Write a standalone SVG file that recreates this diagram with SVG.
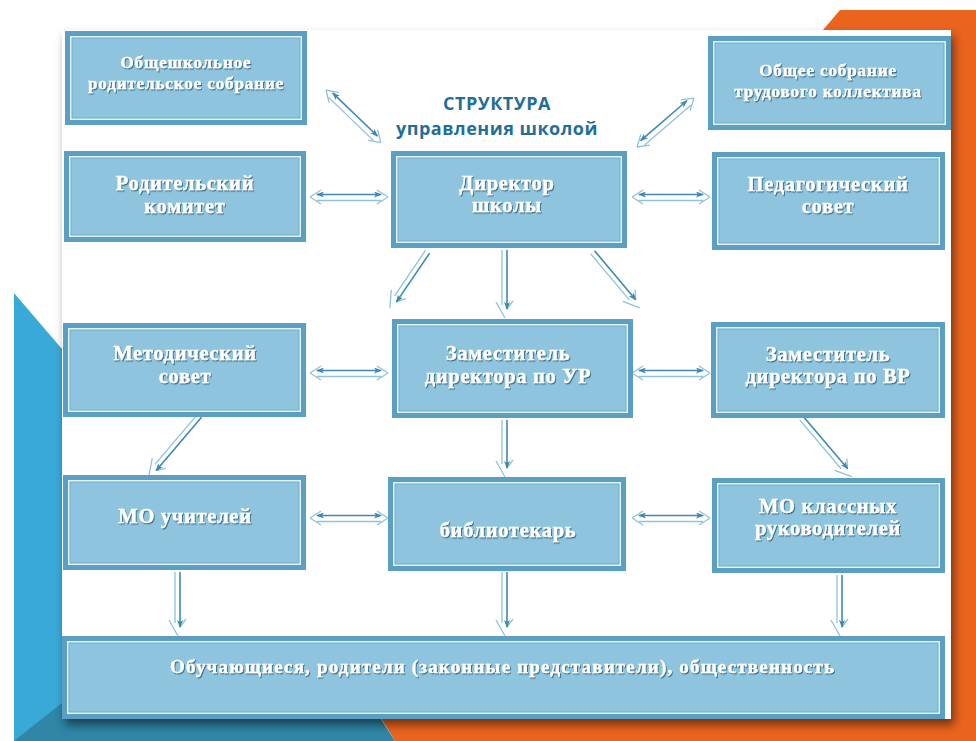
<svg xmlns="http://www.w3.org/2000/svg" width="976" height="741" viewBox="0 0 976 741">
<defs>
<style>
.o{fill:#5b9fc3}
.w{fill:#e4f2f8}
.f{fill:#8ec4dd;stroke:#6eadcd;stroke-width:1}
.t{font-family:"Liberation Serif","Times New Roman",serif;font-weight:bold;fill:#ffffff;stroke:#ffffff;stroke-width:0.35;text-anchor:middle;filter:url(#ts)}
.s20{font-size:20.5px;letter-spacing:0.7px}
.s16{font-size:17px;letter-spacing:0.9px}
.lt{fill:none;stroke:#8fc2da;stroke-width:1.3}
.dk{fill:none;stroke:#3f89b2;stroke-width:1.6}
.ttl{font-family:"Open Sans","Noto Sans",sans-serif;font-weight:bold;font-size:18px;letter-spacing:0.5px;fill:#1f6f97;text-anchor:middle}
</style>
<filter id="ts" x="-10%" y="-30%" width="120%" height="160%">
<feDropShadow dx="1" dy="1.2" stdDeviation="0.6" flood-color="#2a5f78" flood-opacity="0.85"/>
</filter>
<filter id="ss" x="-5%" y="-5%" width="110%" height="115%">
<feDropShadow dx="3" dy="6" stdDeviation="5" flood-color="#000" flood-opacity="0.5"/>
</filter>
<marker id="ah" viewBox="0 0 8 6" refX="7" refY="3" markerWidth="8" markerHeight="6" orient="auto-start-reverse" markerUnits="userSpaceOnUse">
<path d="M0,0 L8,3 L0,6 L2,3 z" fill="#3d87b0"/>
</marker>
<g id="dbl78">
<path class="lt" d="M0,0 L11,-7 M0,0 L11,7 M78,0 L67,-7 M78,0 L67,7 M7,3.5 H71"/>
<path class="dk" d="M7,-2.5 H71" marker-start="url(#ah)" marker-end="url(#ah)"/>
</g>
</defs>

<!-- background -->
<rect x="0" y="0" width="976" height="741" fill="#ffffff"/>
<polygon points="14,293 140,440 140,741 14,741" fill="#39a9d8"/>
<polygon points="840,10 976,10 976,741 395,741 370,700 690,186" fill="#ea641e"/>
<polygon points="14,741 62,703 62,719 381,719 395,741" fill="#2f86a6"/>
<rect x="62" y="30" width="889" height="689" fill="#ffffff" filter="url(#ss)"/>

<!-- title -->
<g id="title">
<text class="ttl" x="497" y="110">СТРУКТУРА</text>
<text class="ttl" x="497" y="135">управления школой</text>
</g>

<!-- connectors -->
<g id="connectors">
<g transform="translate(326,90) rotate(43.9)">
<path class="lt" d="M0,0 L11,-7 M0,0 L11,7 M76,0 L65,-7 M76,0 L65,7 M7,3.5 H69"/>
<path class="dk" d="M7,-2.5 H69" marker-start="url(#ah)" marker-end="url(#ah)"/>
</g>
<g transform="translate(637,147) rotate(-40.7)">
<path class="lt" d="M0,0 L11,-7 M0,0 L11,7 M75,0 L64,-7 M75,0 L64,7 M7,3.5 H68"/>
<path class="dk" d="M7,-2.5 H68" marker-start="url(#ah)" marker-end="url(#ah)"/>
</g>
<use href="#dbl78" x="310" y="197"/>
<use href="#dbl78" x="632" y="197"/>
<use href="#dbl78" x="310" y="373"/>
<use href="#dbl78" x="632" y="373"/>
<use href="#dbl78" x="310" y="518"/>
<use href="#dbl78" x="632" y="518"/>

<g transform="translate(428,252) rotate(124.2)">
<path class="lt" d="M0,3 H55 M51,-8 L59,-2 M52,9 L68,0"/>
<path class="dk" d="M0,-2 H59" marker-end="url(#ah)"/>
</g>
<g transform="translate(505,250) rotate(90)">
<path class="lt" d="M0,3 H55 M51,-8 L59,-2 M52,9 L68,0"/>
<path class="dk" d="M0,-2 H59" marker-end="url(#ah)"/>
</g>
<g transform="translate(593,252) rotate(50)">
<path class="lt" d="M0,3 H60 M56,-8 L64,-2 M57,9 L73,0"/>
<path class="dk" d="M0,-2 H64" marker-end="url(#ah)"/>
</g>
<g transform="translate(505,420) rotate(90)">
<path class="lt" d="M0,3 H44 M40,-8 L48,-2 M41,9 L57,0"/>
<path class="dk" d="M0,-2 H48" marker-end="url(#ah)"/>
</g>
<g transform="translate(200,416) rotate(130.4)">
<path class="lt" d="M0,3 H66 M62,-8 L70,-2 M63,9 L79,0"/>
<path class="dk" d="M0,-2 H70" marker-end="url(#ah)"/>
</g>
<g transform="translate(802,418) rotate(49.7)">
<path class="lt" d="M0,3 H64 M60,-8 L68,-2 M61,9 L77,0"/>
<path class="dk" d="M0,-2 H68" marker-end="url(#ah)"/>
</g>
<g transform="translate(178,572) rotate(90)">
<path class="lt" d="M0,3 H51 M47,-8 L55,-2 M48,9 L64,0"/>
<path class="dk" d="M0,-2 H55" marker-end="url(#ah)"/>
</g>
<g transform="translate(505,572) rotate(90)">
<path class="lt" d="M0,3 H51 M47,-8 L55,-2 M48,9 L64,0"/>
<path class="dk" d="M0,-2 H55" marker-end="url(#ah)"/>
</g>
<g transform="translate(840,575) rotate(90)">
<path class="lt" d="M0,3 H48 M44,-8 L52,-2 M45,9 L61,0"/>
<path class="dk" d="M0,-2 H52" marker-end="url(#ah)"/>
</g>
</g>

<!-- nodes -->
<g id="n1">
<rect class="o" x="65" y="31" width="242" height="94"/>
<rect class="w" x="70" y="36" width="232" height="84"/>
<rect class="f" x="72" y="38" width="228" height="80"/>
<text class="t s16" x="186" y="68">Общешкольное</text>
<text class="t s16" x="186" y="89">родительское собрание</text>
</g>
<g id="n2">
<rect class="o" x="64" y="151" width="242" height="91"/>
<rect class="w" x="69" y="156" width="232" height="81"/>
<rect class="f" x="71" y="158" width="228" height="77"/>
<text class="t s20" x="185" y="190">Родительский</text>
<text class="t s20" x="185" y="213">комитет</text>
</g>
<g id="n3">
<rect class="o" x="391" y="151" width="236" height="97"/>
<rect class="w" x="396" y="156" width="226" height="87"/>
<rect class="f" x="398" y="158" width="222" height="83"/>
<text class="t s20" x="507" y="190">Директор</text>
<text class="t s20" x="507" y="212">школы</text>
</g>
<g id="n4">
<rect class="o" x="708" y="36" width="243" height="94"/>
<rect class="w" x="713" y="41" width="233" height="84"/>
<rect class="f" x="715" y="43" width="229" height="80"/>
<text class="t s16" x="828" y="76">Общее собрание</text>
<text class="t s16" x="828" y="97">трудового коллектива</text>
</g>
<g id="n5">
<rect class="o" x="712" y="152" width="233" height="98"/>
<rect class="w" x="717" y="157" width="223" height="88"/>
<rect class="f" x="719" y="159" width="219" height="84"/>
<text class="t s20" x="828" y="191">Педагогический</text>
<text class="t s20" x="828" y="213">совет</text>
</g>
<g id="n6">
<rect class="o" x="63" y="323" width="243" height="94"/>
<rect class="w" x="68" y="328" width="233" height="84"/>
<rect class="f" x="70" y="330" width="229" height="80"/>
<text class="t s20" x="185" y="360">Методический</text>
<text class="t s20" x="185" y="383">совет</text>
</g>
<g id="n7">
<rect class="o" x="392" y="319" width="241" height="99"/>
<rect class="w" x="397" y="324" width="231" height="89"/>
<rect class="f" x="399" y="326" width="227" height="85"/>
<text class="t s20" x="508" y="360">Заместитель</text>
<text class="t s20" x="508" y="383">директора по УР</text>
</g>
<g id="n8">
<rect class="o" x="711" y="322" width="234" height="96"/>
<rect class="w" x="716" y="327" width="224" height="86"/>
<rect class="f" x="718" y="329" width="220" height="82"/>
<text class="t s20" x="828" y="361">Заместитель</text>
<text class="t s20" x="828" y="383">директора по ВР</text>
</g>
<g id="n9">
<rect class="o" x="63" y="475" width="243" height="95"/>
<rect class="w" x="68" y="480" width="233" height="85"/>
<rect class="f" x="70" y="482" width="229" height="81"/>
<text class="t s20" x="185" y="523">МО учителей</text>
</g>
<g id="n10">
<rect class="o" x="388" y="477" width="238" height="94"/>
<rect class="w" x="393" y="482" width="228" height="84"/>
<rect class="f" x="395" y="484" width="224" height="80"/>
<text class="t s20" x="508" y="537">библиотекарь</text>
</g>
<g id="n11">
<rect class="o" x="712" y="478" width="233" height="95"/>
<rect class="w" x="717" y="483" width="223" height="85"/>
<rect class="f" x="719" y="485" width="219" height="81"/>
<text class="t s20" x="828" y="513">МО классных</text>
<text class="t s20" x="828" y="535">руководителей</text>
</g>
<g id="n12">
<rect class="o" x="62" y="636" width="883" height="83"/>
<rect class="w" x="67" y="641" width="873" height="73"/>
<rect class="f" x="69" y="643" width="869" height="69"/>
<text class="t" x="502" y="673" font-size="19" textLength="664" lengthAdjust="spacing">Обучающиеся, родители (законные представители), общественность</text>
</g>
</svg>
